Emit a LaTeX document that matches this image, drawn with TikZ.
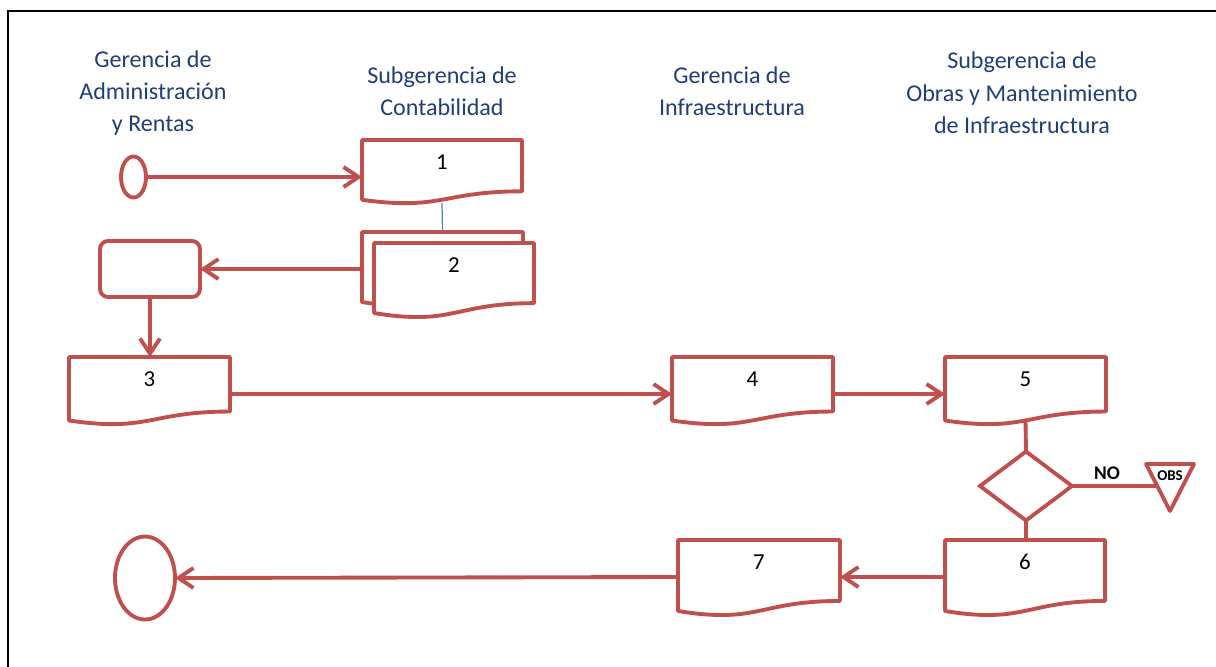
\documentclass[tikz,border=0pt]{standalone}
\usepackage{fontspec}
\setmainfont{Carlito}
\usetikzlibrary{shapes.geometric,arrows.meta}
\definecolor{rline}{HTML}{C0504D}
\definecolor{htext}{HTML}{1F3F7A}
\definecolor{bline}{HTML}{4F81BD}
\tikzset{
 docline/.style={draw=rline, line width=2.2pt, fill=white, line join=round},
 docnode/.style={draw=none, inner sep=0pt, outer sep=0pt, minimum height=1.48cm},
 doclabel/.style={anchor=center, yshift=-0.44cm, font=\fontsize{13}{15}\selectfont, inner sep=0pt},
 conn/.style={draw=rline, line width=2.2pt},
 arr/.style={conn, -{Straight Barb[length=0.3cm,width=0.4cm,line width=2.2pt]}},
 header/.style={align=center, text=htext, font=\fontsize{13.7}{18.4}\selectfont},
 shapeline/.style={draw=rline, line width=2.2pt, fill=white, inner sep=0pt, outer sep=0pt},
}
\newcommand\mkdoc[6]{%
 \draw[docline] (#2,#3) -- ({#2+#4},#3) -- ({#2+#4},{#3+0.802*#5}) .. controls ({#2+#4/2},{#3+0.802*#5}) and ({#2+#4/2},{#3+1.107*#5}) .. (#2,{#3+0.934*#5}) -- cycle;
 \node[docnode, minimum width=#4*0.02cm, label={[doclabel]north:#6}] (#1) at ({#2+#4/2},{#3+37}) {};
}
\begin{document}
\begin{tikzpicture}[x=0.02cm,y=-0.02cm]
\useasboundingbox (0,0) rectangle (1216,666);
\clip (0,0) rectangle (1216,666);
% frame
\draw[black, line width=1.1pt] (8,680) -- (8,11) -- (1230,11);
% headers
\node[header] (h1) at (153,93) {Gerencia de\\Administración\\y Rentas};
\node[header] (h2) at (442,91.5) {Subgerencia de\\Contabilidad};
\node[header] (h3) at (732,91.5) {Gerencia de\\Infraestructura};
\node[header] (h4) at (1022,93) {Subgerencia de\\Obras y Mantenimiento\\de Infraestructura};
% documents
\mkdoc{doc1}{362}{140}{160}{64}{1}
\mkdoc{doc2b}{362}{232}{161}{75}{}
\mkdoc{doc2}{374}{243}{160}{75}{2}
\mkdoc{doc3}{69}{357}{161}{68}{3}
\mkdoc{doc4}{672}{357}{161}{68}{4}
\mkdoc{doc5}{945}{357}{161}{68}{5}
\mkdoc{doc6}{945}{540}{160}{76}{6}
\mkdoc{doc7}{678}{540}{162}{76}{7}
% other shapes
\node[shapeline, ellipse, minimum width=0.5cm, minimum height=0.82cm] (start) at (133.5,177) {};
\node[shapeline, rounded corners=0.16cm, minimum width=2cm, minimum height=1.12cm] (proc) at (150,269) {};
\node[shapeline, diamond, minimum width=1.84cm, minimum height=1.38cm] (dec) at (1026,486) {};
\node[shapeline, ellipse, minimum width=1.2cm, minimum height=1.66cm] (end) at (145,578) {};
\coordinate (obsin) at (1158,486);
% connectors
\draw[bline, line width=0.7pt] ([yshift=0.22cm]doc1.south) -- (doc2b.north);
\draw[arr] (start.east) -- (doc1.west);
\draw[arr] (doc2b.west) -- (proc.east);
\draw[arr] (proc.south) -- (proc.south |- doc3.north);
\draw[arr] (doc3.east) -- (doc4.west);
\draw[arr] (doc4.east) -- (doc5.west);
\draw[conn] ([yshift=0.21cm]doc5.south) -- (dec.north);
\draw[conn] (dec.south) -- (dec.south |- doc6.north);
\draw[conn] (dec.east) -- (obsin);
\draw[arr] (doc6.west) -- (doc7.east);
\draw[arr] (doc7.west) -- (end.east);
% OBS triangle
\draw[docline] (1146,464) -- (1194,464) -- (1170,511) -- cycle;
\node[font=\bfseries\fontsize{8.5}{9}\selectfont, inner sep=0pt] (obs) at (1170,476) {OBS};
\node[font=\bfseries\fontsize{11}{12}\selectfont, inner sep=0pt] (no) at (1107,473) {NO};
\end{tikzpicture}
\end{document}
